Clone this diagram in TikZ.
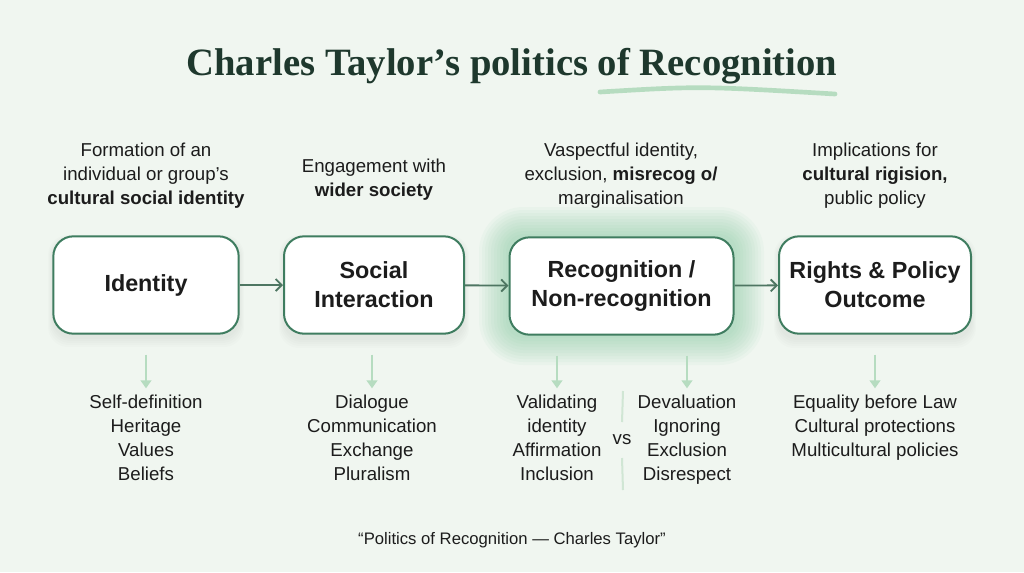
\documentclass[tikz,border=0pt]{standalone}
\usepackage{fontspec}
\setmainfont{Liberation Sans}
\newfontfamily\titlefont{Liberation Serif}
\usetikzlibrary{positioning}
\usetikzlibrary{arrows.meta}
\definecolor{page green}{RGB}{240,246,240}
\definecolor{title ink}{RGB}{30,56,45}
\definecolor{frame green}{RGB}{63,125,96}
\definecolor{arrow green}{RGB}{78,118,98}
\definecolor{soft green}{RGB}{182,220,192}
\definecolor{line green}{RGB}{208,230,212}
\definecolor{glow green}{RGB}{120,196,150}
\definecolor{body ink}{RGB}{28,28,28}
\tikzset{
    % Plain chevron for the main flow
    >={Straight Barb[length=4.5pt,width=9pt]},
%
    % One stage of the flow
    stage box/.style={
        draw=frame green, line width=1.5pt, fill=white, rounded corners=15pt,
        minimum height=73pt, align=center, text=body ink,
        font=\fontsize{17.5}{21.75}\selectfont\bfseries},
%
    % Small text above and below the stages
    note text/.style={align=center, text=body ink, inner sep=0,
        font=\fontsize{14}{18}\selectfont},
    list text/.style={note text, anchor=north,
        font=\fontsize{14}{17.8}\selectfont},
%
    % Arrows between stages and down to the lists
    flow arrow/.style={->, draw=arrow green, line width=1.4pt},
    down arrow/.style={-{Triangle[length=6pt,width=8pt]}, draw=soft green,
        line width=1.5pt, shorten <=15pt, shorten >=5pt}}

\begin{document}
\begin{tikzpicture}[x=0.75pt, y=-0.75pt]

% Page and margins
\fill[page green] (0,0) rectangle (1024,572);
\useasboundingbox (0,0) rectangle (1024,572);

% Title with its brush stroke
\node[text=title ink, font=\titlefont\fontsize{29}{34}\selectfont\bfseries]
    (title) at (512,66) {Charles Taylor’s politics of Recognition};
\draw[soft green, line width=3.5pt, line cap=round]
    (600,92) .. controls (700,86) .. (835,94);

% Soft shadows under the stages
\foreach \g in {1,...,5}
    \fill[black, opacity=0.012, rounded corners=15pt]
        (53-\g,240-\g) rectangle (239+\g,337+2*\g)
        (284-\g,240-\g) rectangle (464+\g,338+2*\g)
        (779-\g,240-\g) rectangle (971+\g,338+2*\g);

% Green glow round the recognition stage
\foreach \g [evaluate=\g as \rc using 11+0.75*\g] in {3,6,...,30}
    \fill[glow green, opacity=0.055, rounded corners=\rc pt]
        (509-\g,237-\g) rectangle (734+\g,335+\g);

% The four stages
\node[stage box, minimum width=139pt] (identity) at (146,285) {Identity};
\node[stage box, minimum width=135pt] (social interaction) at (374,285)
    {Social\\Interaction};
\node[stage box, minimum width=168pt] (recognition) at (621.5,286)
    {Recognition /\\Non-recognition};
\node[stage box, minimum width=144pt] (rights policy) at (875,285)
    {Rights \& Policy\\Outcome};

\draw[flow arrow] (identity) -- (social interaction);
\draw[flow arrow] (social interaction) -- (recognition);
\draw[flow arrow] (recognition) -- (rights policy);

% What each stage means
\node[note text] (identity note) at (146,176)
    {Formation of an\\individual or group’s\\\textbf{cultural social identity}};
\node[note text] (social note) at (374,180)
    {Engagement with\\\textbf{wider society}};
\node[note text] (recognition note) at (621,176)
    {Vaspectful identity,\\exclusion, \textbf{misrecog o/}\\marginalisation};
\node[note text] (rights note) at (875,176)
    {Implications for\\\textbf{cultural rigision,}\\public policy};

% What each stage leads to
\node[list text] (identity list) at (146,395)
    {Self-definition\\Heritage\\Values\\Beliefs};
\node[list text] (social list) at (372,395)
    {Dialogue\\Communication\\Exchange\\Pluralism};
\node[list text] (valid list) at (557,395)
    {Validating\\identity\\Affirmation\\Inclusion};
\node[list text] (devalue list) at (687,395)
    {Devaluation\\Ignoring\\Exclusion\\Disrespect};
\node[list text] (rights list) at (875,395)
    {Equality before Law\\Cultural protections\\Multicultural policies};

\draw[down arrow] (identity) -- (identity list);
\draw[down arrow] (social interaction.south -| social list.north) -- (social list);
\draw[down arrow] (recognition.south -| valid list.north) -- (valid list);
\draw[down arrow] (recognition.south -| devalue list.north) -- (devalue list);
\draw[down arrow] (rights policy) -- (rights list);

% The two sides of recognition
\node[note text] (versus) at (622,440) {vs};
\coordinate (split top) at (623,391);
\coordinate (split bottom) at (623,490);
\draw[line green, line width=1.5pt] (split top) -- (versus.north |- 0,422);
\draw[line green, line width=1.5pt] (versus.south |- 0,458) -- (split bottom);

% Source line
\node[note text, font=\fontsize{12.5}{14}\selectfont] (source) at (512,540)
    {“Politics of Recognition — Charles Taylor”};

\end{tikzpicture}
\end{document}
